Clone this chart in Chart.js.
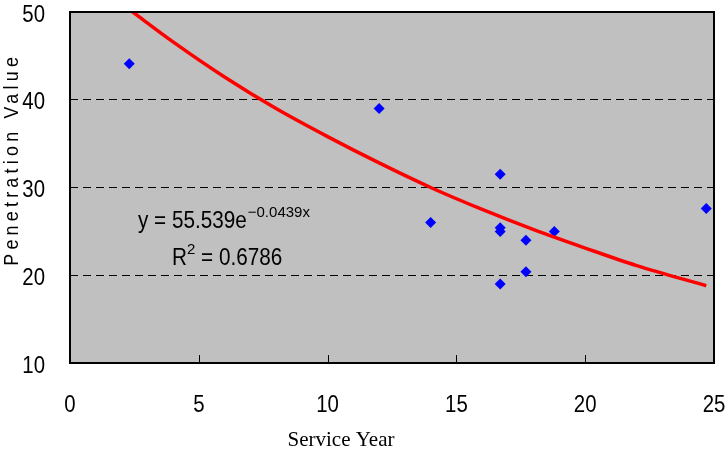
<!DOCTYPE html>
<html>
<head>
    <title>Penetration Value vs Service Year</title>
    <script src="https://cdn.jsdelivr.net/npm/chart.js"></script>
    <style>
        body { margin: 0; background: #fff; }
        #wrap { width: 727px; height: 450px; position: relative; }
    </style>
</head>
<body>
    <div id="wrap"><canvas id="chart"></canvas></div>

    <script>
        // measured points
        const serviceYear = [2.3, 12.0, 14.0, 16.7, 16.7, 16.7, 16.7, 17.7, 17.7, 18.8, 24.7];
        const penetration = [44.1, 39.0, 26.0, 31.5, 25.4, 25.0, 19.0, 24.0, 20.4, 25.0, 27.6];

        // trend line
        const trendX = [2.3, 4, 6, 8, 10, 12, 14, 16, 18, 20, 22, 24.7];
        const trendY = [50.3, 46.6, 42.6, 39.0, 35.8, 32.8, 30.0, 27.5, 25.2, 23.1, 21.1, 18.8];

        const xTicks = [0, 5, 10, 15, 20, 25];
        const yTicks = [10, 20, 30, 40, 50];
        const eqText = ['y = 55.539e', '\u22120.0439x'];
        const r2Text = ['R', '2', ' = 0.6786'];

        const sans = '"Liberation Sans", Arial, sans-serif';

        // draw text squeezed horizontally (the original font is a narrow one)
        function narrowText(c, txt, x, y, size, align, sq) {
            sq = sq || 0.85;
            c.save();
            c.font = size + 'px ' + sans;
            c.textAlign = align || 'left';
            c.translate(x, y);
            c.scale(sq, 1);
            c.fillText(txt, 0, 0);
            const w = c.measureText(txt).width * sq;
            c.restore();
            return w;
        }

        const decor = {
            id: 'decor',
            beforeDraw(chart) {
                const a = chart.chartArea, c = chart.ctx;
                c.save();
                c.fillStyle = '#c0c0c0';
                c.fillRect(a.left, a.top, a.right - a.left, a.bottom - a.top);
                c.restore();
            },
            afterDatasetsDraw(chart) {
                const a = chart.chartArea, c = chart.ctx;
                const xs = chart.scales.x, ys = chart.scales.y;
                c.save();
                c.strokeStyle = '#000';
                c.lineWidth = 1;
                xTicks.slice(1, -1).forEach(v => {
                    const px = Math.round(xs.getPixelForValue(v)) + 0.5;
                    c.beginPath();
                    c.moveTo(px, a.bottom);
                    c.lineTo(px, a.bottom - 8);
                    c.stroke();
                });
                c.lineWidth = 2;
                c.strokeRect(a.left, a.top, a.right - a.left, a.bottom - a.top);

                c.fillStyle = '#000';
                c.textBaseline = 'alphabetic';

                // tick labels
                yTicks.forEach(v => {
                    narrowText(c, String(v), 45, ys.getPixelForValue(v) + 9.5, 24, 'right');
                });
                xTicks.forEach(v => {
                    narrowText(c, String(v), xs.getPixelForValue(v), 412, 24, 'center');
                });

                // equation
                let x = 138;
                x += narrowText(c, eqText[0], x, 228, 23, 'left', 0.9) + 1;
                narrowText(c, eqText[1], x, 217, 15, 'left', 1);

                x = 172;
                x += narrowText(c, r2Text[0], x, 265, 23, 'left', 0.9);
                x += narrowText(c, r2Text[1], x, 254, 15, 'left', 1);
                narrowText(c, r2Text[2], x, 265, 23, 'left', 0.9);

                // axis titles
                c.font = '21px "Liberation Serif", "Times New Roman", serif';
                c.textAlign = 'center';
                c.fillText('Service Year', 341, 446);

                c.translate(18, 161);
                c.rotate(-Math.PI / 2);
                c.scale(0.85, 1);
                c.font = '21px ' + sans;
                c.letterSpacing = '5px';
                c.fillText('Penetration Value', 2, 0);
                c.restore();
            }
        };

        new Chart(document.getElementById('chart'), {
            type: 'scatter',
            data: {
                datasets: [
                    {
                        label: 'data',
                        data: serviceYear.map((x, i) => ({ x: x, y: penetration[i] })),
                        pointStyle: 'rectRot',
                        pointRadius: 5.5,
                        backgroundColor: '#0000ff',
                        borderColor: '#0000ff',
                        borderWidth: 0,
                        order: 2
                    },
                    {
                        label: 'trend',
                        type: 'line',
                        data: trendX.map((x, i) => ({ x: x, y: trendY[i] })),
                        borderColor: '#ff0000',
                        borderWidth: 3.5,
                        pointRadius: 0,
                        fill: false,
                        cubicInterpolationMode: 'monotone',
                        order: 1
                    }
                ]
            },
            options: {
                responsive: true,
                maintainAspectRatio: false,
                animation: false,
                layout: { padding: { left: 0, right: 13, top: 12, bottom: 0 } },
                plugins: {
                    legend: { display: false },
                    tooltip: { enabled: false }
                },
                scales: {
                    x: {
                        type: 'linear',
                        min: 0, max: 25,
                        afterBuildTicks: s => { s.ticks = xTicks.map(v => ({ value: v })); },
                        grid: { display: false, drawTicks: false },
                        border: { display: false },
                        ticks: { display: false },
                        afterFit: s => { s.height = 87; }
                    },
                    y: {
                        min: 10, max: 50,
                        afterBuildTicks: s => { s.ticks = yTicks.map(v => ({ value: v })); },
                        grid: {
                            color: c => (c.tick.value === 10 || c.tick.value === 50) ? 'rgba(0,0,0,0)' : '#000',
                            lineWidth: 1,
                            drawTicks: false
                        },
                        border: { display: false, dash: [8, 5] },
                        ticks: { display: false },
                        afterFit: s => { s.width = 70; }
                    }
                }
            },
            plugins: [decor]
        });
    </script>
</body>
</html>
